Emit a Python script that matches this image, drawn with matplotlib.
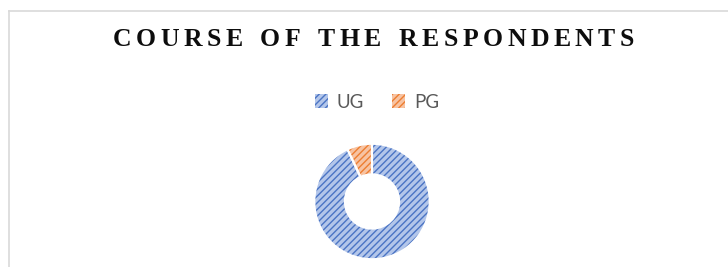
import matplotlib
matplotlib.use("Agg")
import matplotlib.pyplot as plt
from matplotlib.patches import Patch
from matplotlib.lines import Line2D

title = "COURSE OF THE RESPONDENTS"
categories = ["UG", "PG"]
values = [93, 7]

W, H = 728, 267
fig = plt.figure(figsize=(W / 100, H / 100), dpi=100)
fig.patch.set_facecolor("white")

plt.rcParams['hatch.linewidth'] = 1.0

face = ["#B3C6EA", "#F7C3A2"]
hatchc = ["#4A74C4", "#ED7D31"]

# border lines
fig.add_artist(Line2D([8.5 / W, 8.5 / W], [0, 1 - 11 / H], transform=fig.transFigure,
                      color="#D9D9D9", lw=1.2))
fig.add_artist(Line2D([8.5 / W, 1], [1 - 11 / H, 1 - 11 / H], transform=fig.transFigure,
                      color="#D9D9D9", lw=1.2))

# donut
cx, cy, R = 372, 201.5, 60
ax = fig.add_axes([(cx - R) / W, (H - cy - R) / H, 2 * R / W, 2 * R / H])
ax.axis("off")

wedges, _ = ax.pie(values, startangle=90, counterclock=False, radius=1,
                   wedgeprops=dict(width=0.53, linewidth=0), colors=face)
for w, hc in zip(wedges, hatchc):
    w.set_hatch("/////")
    w.set_edgecolor(hc)
    w.set_linewidth(0)
wedges2, _ = ax.pie(values, startangle=90, counterclock=False, radius=1,
                    wedgeprops=dict(width=0.53, linewidth=1.5, edgecolor="white", fill=False))
ax.set_xlim(-1.04, 1.04)
ax.set_ylim(-1.04, 1.04)
ax.set_aspect("equal")

# title with letter spacing
x0, x1, ty = 113, 634, 39.5
fs = 18.5
extra_word = 13
renderer = fig.canvas.get_renderer()
chars = list(title)
widths = []
for ch in chars:
    if ch == " ":
        widths.append(0)
        continue
    t = fig.text(0, 0, ch, fontsize=fs, fontweight="bold", family="Liberation Serif")
    widths.append(t.get_window_extent(renderer).width)
    t.remove()
letters = [c for c in chars if c != " "]
n_spaces = chars.count(" ")
sp = (x1 - x0 - sum(widths) - extra_word * n_spaces) / (len(letters) - 1)
x = x0
for ch, wd in zip(chars, widths):
    if ch == " ":
        x += extra_word
        continue
    fig.text(x / W, 1 - ty / H, ch, ha="left", va="center", fontsize=fs, fontweight="bold",
             family="Liberation Serif", color="#0D0D0D")
    x += wd + sp

handles = [Patch(facecolor=f, edgecolor=c, hatch="/////", linewidth=0) for f, c in zip(face, hatchc)]
leg = fig.legend(handles, categories, loc="center", bbox_to_anchor=(377 / W, 1 - 102 / H),
                 ncol=2, frameon=False, prop=dict(family="Lato", size=13.5),
                 handlelength=0.7, handleheight=0.7, handletextpad=0.45, columnspacing=1.5,
                 labelcolor="#595959")

fig.savefig("out.png", dpi=100, facecolor="white")
